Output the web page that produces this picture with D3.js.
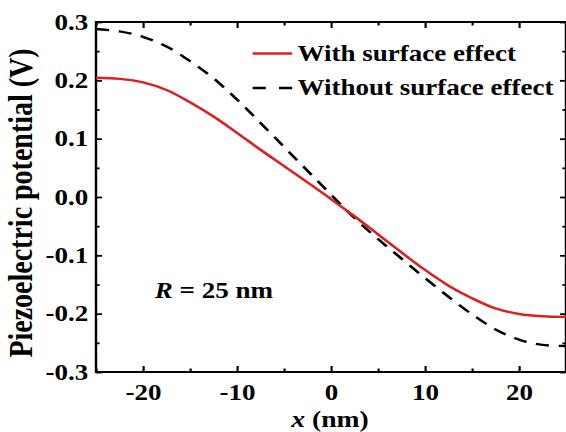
<!DOCTYPE html>
<html>
<head>
<meta charset="utf-8">
<title>Piezoelectric potential</title>
<style>
  body { margin: 0; background: #fff; }
  text { font-family: "Liberation Serif", "Times New Roman", Times, serif; font-weight: bold; fill: #000; }
</style>
</head>
<body>
<svg width="566" height="432"></svg>
<script src="https://d3js.org/d3.v7.min.js"></script>
<script>
// data
var xs = [-25, -22.5, -20, -17.5, -15, -12.5, -10, -7.5, -5, -2.5, 0,
          2.5, 5, 7.5, 10, 12.5, 15, 17.5, 20, 22.5, 25];
var withSurface = [0.2045, 0.2025, 0.1965, 0.1835, 0.1625, 0.138, 0.110, 0.081, 0.053, 0.025, -0.0035,
                   -0.033, -0.064, -0.095, -0.125, -0.152, -0.1735, -0.191, -0.2005, -0.2045, -0.2055];
var withoutSurface = [0.288, 0.284, 0.2745, 0.258, 0.233, 0.2035, 0.167, 0.127, 0.086, 0.045, 0.004,
                      -0.036, -0.072, -0.1055, -0.139, -0.171, -0.201, -0.227, -0.2445, -0.2535, -0.2555];
var xTicks = [-20, -10, 0, 10, 20];
var xMinor = [-25, -15, -5, 5, 15, 25];
var yTicks = [-0.3, -0.2, -0.1, 0.0, 0.1, 0.2, 0.3];
var yMinor = [-0.25, -0.15, -0.05, 0.05, 0.15, 0.25];
var legendLabels = ["With surface effect", "Without surface effect"];

// the original picture is stretched horizontally, so draw in a scaled group
var sx = 1.2;
var mLeft = 96 / sx, mRight = 566 / sx, mTop = 22, mBottom = 372;

var svg = d3.select('svg');
var g = svg.append('g').attr('transform', 'scale(' + sx + ',1)');

var x = d3.scaleLinear().domain([-25, 25]).range([mLeft, mRight]);
var y = d3.scaleLinear().domain([-0.3, 0.3]).range([mBottom, mTop]);

function styleAxis(sel) {
    sel.attr('font-family', null).attr('font-size', null);
    sel.select('.domain').remove();
    sel.selectAll('line').attr('stroke', '#000').attr('stroke-width', 1.8);
    sel.selectAll('text').attr('font-size', '22.5px').attr('fill', '#000');
}

// bottom axis
g.append('g').attr('transform', 'translate(0,' + mBottom + ')')
    .call(d3.axisBottom(x).tickValues(xTicks).tickSize(-6).tickPadding(12)
        .tickFormat(function (d) { return d < 0 ? '-' + Math.abs(d) : d; }))
    .call(styleAxis);
g.append('g').attr('transform', 'translate(0,' + mBottom + ')')
    .call(d3.axisBottom(x).tickValues(xMinor).tickSize(-3.5).tickFormat(''))
    .call(styleAxis);
// top axis
g.append('g').attr('transform', 'translate(0,' + mTop + ')')
    .call(d3.axisTop(x).tickValues(xTicks).tickSize(-6).tickFormat(''))
    .call(styleAxis);
g.append('g').attr('transform', 'translate(0,' + mTop + ')')
    .call(d3.axisTop(x).tickValues(xMinor).tickSize(-3.5).tickFormat(''))
    .call(styleAxis);
// left axis
g.append('g').attr('transform', 'translate(' + mLeft + ',0)')
    .call(d3.axisLeft(y).tickValues(yTicks).tickSize(-5).tickPadding(6.5)
        .tickFormat(function (d) { return (d < 0 ? '-' : '') + Math.abs(d).toFixed(1); }))
    .call(styleAxis);
g.append('g').attr('transform', 'translate(' + mLeft + ',0)')
    .call(d3.axisLeft(y).tickValues(yMinor).tickSize(-3).tickFormat(''))
    .call(styleAxis);
// right axis
g.append('g').attr('transform', 'translate(' + mRight + ',0)')
    .call(d3.axisRight(y).tickValues(yTicks).tickSize(-5).tickFormat(''))
    .call(styleAxis);
g.append('g').attr('transform', 'translate(' + mRight + ',0)')
    .call(d3.axisRight(y).tickValues(yMinor).tickSize(-3).tickFormat(''))
    .call(styleAxis);

// frame
g.append('rect')
    .attr('x', mLeft).attr('y', mTop)
    .attr('width', mRight - mLeft).attr('height', mBottom - mTop)
    .attr('fill', 'none').attr('stroke', '#000').attr('stroke-width', 2);

// curves
var line = d3.line()
    .x(function (d, i) { return x(xs[i]); })
    .y(function (d) { return y(d); })
    .curve(d3.curveCatmullRom);

g.append('path')
    .datum(withoutSurface)
    .attr('d', line)
    .attr('fill', 'none')
    .attr('stroke', '#000')
    .attr('stroke-width', 2.4)
    .attr('stroke-dasharray', '11,8');

g.append('path')
    .datum(withSurface)
    .attr('d', line)
    .attr('fill', 'none')
    .attr('stroke', '#dc1f1f')
    .attr('stroke-width', 2.4);

// legend
var legend = g.append('g');
var legendY = [53.5, 88];
legend.append('line')
    .attr('x1', 210.5).attr('x2', 243.5)
    .attr('y1', legendY[0]).attr('y2', legendY[0])
    .attr('stroke', '#dc1f1f').attr('stroke-width', 2.4);
legend.append('line')
    .attr('x1', 210.5).attr('x2', 243.5)
    .attr('y1', legendY[1]).attr('y2', legendY[1])
    .attr('stroke', '#000').attr('stroke-width', 2.4)
    .attr('stroke-dasharray', '11,11');
legend.selectAll('text.leg')
    .data(legendLabels)
    .enter().append('text')
    .attr('class', 'leg')
    .attr('x', 248)
    .attr('y', function (d, i) { return legendY[i] + 7.5; })
    .attr('font-size', '22.5px')
    .text(function (d) { return d; });

// annotation
var ann = g.append('text')
    .attr('x', 129)
    .attr('y', 298)
    .attr('font-size', '22.5px');
ann.append('tspan').attr('font-style', 'italic').text('R');
ann.append('tspan').text(' = 25 nm');

// axis titles
var xt = g.append('text')
    .attr('x', 275)
    .attr('y', 427)
    .attr('text-anchor', 'middle')
    .attr('font-size', '23px');
xt.append('tspan').attr('font-style', 'italic').text('x');
xt.append('tspan').text(' (nm)');

g.append('text')
    .attr('transform', 'translate(26.4,203) rotate(-90)')
    .attr('text-anchor', 'middle')
    .attr('font-size', '28px')
    .text('Piezoelectric potential (V)');
</script>
</body>
</html>
